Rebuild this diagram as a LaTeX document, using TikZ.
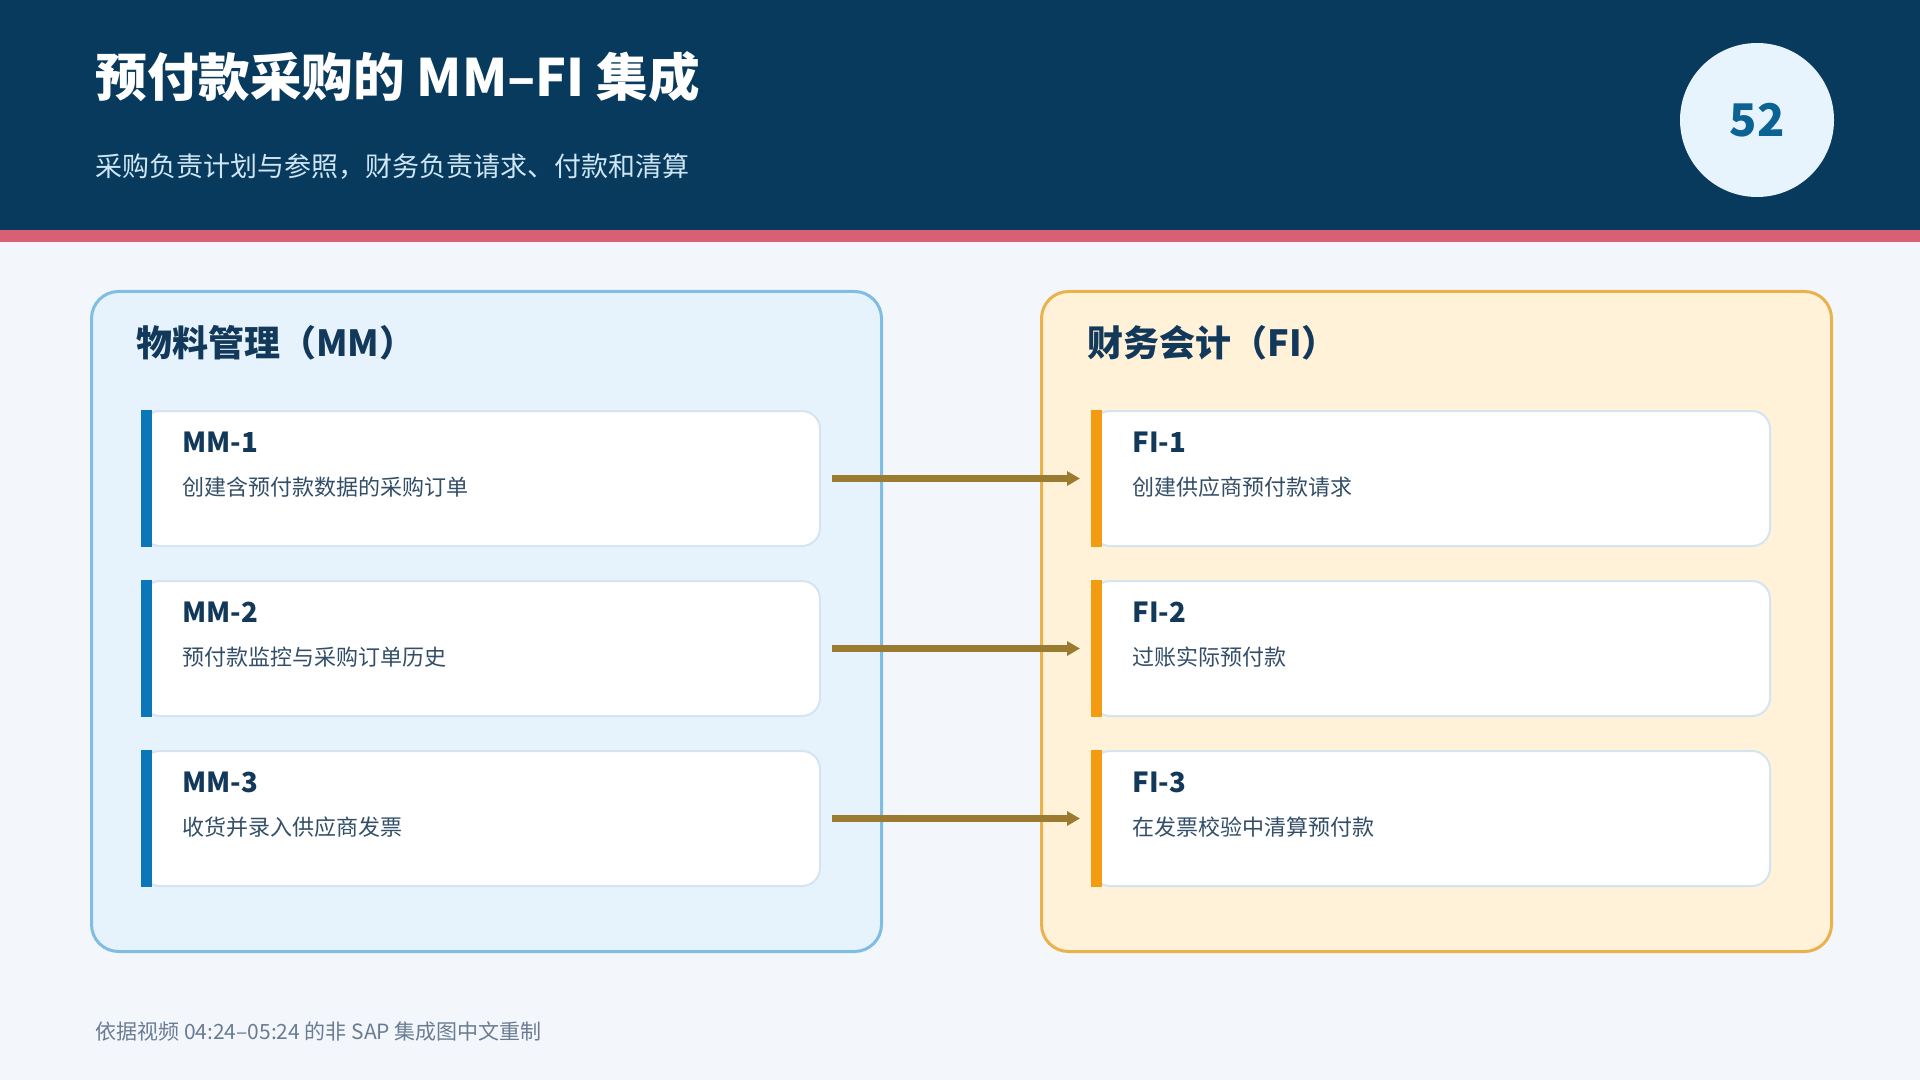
\documentclass[tikz,border=0pt]{standalone}
\usepackage{fontspec}
\setmainfont{Noto Sans CJK SC}
\usepackage{xcolor}
\usepackage{tikz}
\usetikzlibrary{positioning,arrows.meta,calc}
\definecolor{sNavy}{HTML}{073A5C}
\definecolor{sRose}{HTML}{D95F74}
\definecolor{sPage}{HTML}{F3F7FC}
\definecolor{sSub}{HTML}{CFE6F5}
\definecolor{sBadge}{HTML}{E8F4FD}
\definecolor{sBadgeTxt}{HTML}{0B6394}
\definecolor{sMMFill}{HTML}{E7F3FC}
\definecolor{sMMLine}{HTML}{7FBDE2}
\definecolor{sFIFill}{HTML}{FFF2D9}
\definecolor{sFILine}{HTML}{E9B24C}
\definecolor{sInk}{HTML}{12385A}
\definecolor{sText}{HTML}{334E68}
\definecolor{sCardLine}{HTML}{D6E4F1}
\definecolor{sBlue}{HTML}{0B76B8}
\definecolor{sOrange}{HTML}{F39C12}
\definecolor{sArrow}{HTML}{9A7B30}
\definecolor{sFoot}{HTML}{6A7C93}

\begin{document}
\begin{tikzpicture}[x=0.5pt,y=-0.5pt,
  panel/.style={rectangle, rounded corners=13.5pt, line width=1.5pt,
    minimum width=395pt, minimum height=330pt, inner sep=0pt, anchor=north west},
  card/.style={rectangle, rounded corners=9pt, fill=white, draw=sCardLine, line width=1pt,
    minimum width=339pt, minimum height=67.5pt, inner sep=0pt, anchor=north west},
  cardtitle/.style={anchor=west, text=sInk, inner sep=0pt, font=\fontsize{13.8pt}{16pt}\selectfont\bfseries},
  carddesc/.style={anchor=west, text=sText, inner sep=0pt, font=\fontsize{11pt}{13pt}\selectfont},
  paneltitle/.style={anchor=west, text=sInk, inner sep=0pt, font=\fontsize{18pt}{21pt}\selectfont\bfseries},
  flow/.style={draw=sArrow, line width=3.3pt, -{Triangle[length=6.5pt,width=7pt]},
    shorten <=5.5pt, shorten >=5.5pt}
]
\useasboundingbox (0,0) rectangle (1920,1080);
\fill[sPage] (0,0) rectangle (1920,1080);

% header band
\fill[sNavy] (0,0) rectangle (1920,230);
\fill[sRose] (0,230) rectangle (1920,242);
\node[anchor=west, text=white, inner sep=0pt, font=\fontsize{25.8pt}{30pt}\selectfont\bfseries]
  (title) at (95,77) {预付款采购的 MM–FI 集成};
\node[anchor=west, text=sSub, inner sep=0pt, font=\fontsize{13.5pt}{16pt}\selectfont]
  (subtitle) at (95,167) {采购负责计划与参照，财务负责请求、付款和清算};
\node[circle, fill=sBadge, minimum size=77pt, inner sep=0pt, text=sBadgeTxt,
  font=\fontsize{22.5pt}{26pt}\selectfont\bfseries] (badge) at (1757,120) {52};

% two modules
\node[panel, fill=sMMFill, draw=sMMLine] (mm) at (90,290) {};
\node[panel, fill=sFIFill, draw=sFILine] (fi) at (1040,290) {};
\node[paneltitle] (mmhead) at (136,343) {物料管理（MM）};
\node[paneltitle] (fihead) at (1087,343) {财务会计（FI）};

\foreach \i/\yy/\mmtxt/\fitxt in {
  1/410/创建含预付款数据的采购订单/创建供应商预付款请求,
  2/580/预付款监控与采购订单历史/过账实际预付款,
  3/750/收货并录入供应商发票/在发票校验中清算预付款} {
  \node[card] (mm\i) at (141,\yy) {};
  \fill[sBlue] (mm\i.north west) rectangle ($(mm\i.south west)+(11,0)$);
  \node[cardtitle] (mmt\i) at ($(mm\i.north west)+(41,32)$) {MM-\i};
  \node[carddesc] (mmd\i) at ($(mm\i.north west)+(41,77)$) {\mmtxt};

  \node[card] (fi\i) at (1091,\yy) {};
  \fill[sOrange] (fi\i.north west) rectangle ($(fi\i.south west)+(11,0)$);
  \node[cardtitle] (fit\i) at ($(fi\i.north west)+(41,32)$) {FI-\i};
  \node[carddesc] (fid\i) at ($(fi\i.north west)+(41,77)$) {\fitxt};

  \draw[flow] (mm\i.east) -- (fi\i.west);
}

\node[anchor=west, text=sFoot, inner sep=0pt, font=\fontsize{10.5pt}{13pt}\selectfont]
  (foot) at (95,1032) {依据视频 04:24–05:24 的非 SAP 集成图中文重制};
\end{tikzpicture}
\end{document}
